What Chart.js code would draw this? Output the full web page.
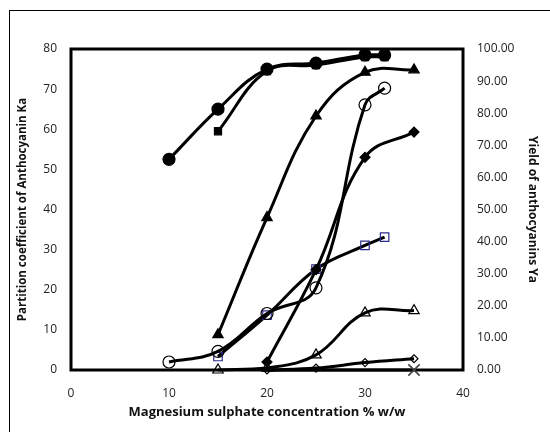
<!DOCTYPE html>
<html>
<head>
<meta charset="utf-8">
<script src="https://cdn.jsdelivr.net/npm/chart.js@4/dist/chart.umd.min.js"></script>
<style>
  html, body { margin: 0; padding: 0; background: #fff; }
  #wrap { width: 550px; height: 432px; position: relative; }
</style>
</head>
<body>
<div id="wrap"><canvas id="chart" width="550" height="432"></canvas></div>
<script>
// x values (Magnesium sulphate % w/w)
const xCircleFilled = [10, 15, 20, 25, 30, 32];
const kaCircleFilled = [52.5, 65, 75, 76.5, 78.5, 78.5];

const xSquareFilled = [15, 20, 25, 30, 32];
const kaSquareFilled = [59.5, 74.5, 76, 78, 78];

const xTriangleFilled = [15, 20, 25, 30, 35];
const kaTriangleFilled = [8.8, 38, 63.3, 74.2, 74.8];

const xDiamondFilled = [20, 25, 30, 35];
const kaDiamondFilled = [2, 25, 53, 59.3];

// yields (right axis, Ya)
const xCircleOpen = [10, 15, 20, 25, 30, 32];
const yaCircleOpen = [2.5, 5.8, 17.6, 25.6, 82.6, 87.8];

const xSquareOpen = [15, 20, 25, 30, 32];
const yaSquareOpen = [4.2, 17.1, 31.4, 38.8, 41.4];

const xTriangleOpen = [15, 20, 25, 30, 35];
const yaTriangleOpen = [0, 0.6, 4.7, 17.8, 18.5];

const xDiamondOpen = [20, 25, 30, 35];
const yaDiamondOpen = [0, 0.6, 2.3, 3.5];

const xCross = [20, 25, 30, 35];
const yaCross = [0, 0, 0, 0];

const xTicks = [0, 10, 20, 30, 40];

function pts(xs, ys) {
  return xs.map(function (x, i) { return { x: x, y: ys[i] }; });
}

const FONT = '"Open Sans", "Liberation Sans", sans-serif';

function series(xs, ys, axis, style, radius, filled, border) {
  return {
    data: pts(xs, ys),
    yAxisID: axis,
    borderColor: '#000',
    borderWidth: 3,
    tension: 0.4,
    clip: false,
    pointStyle: style,
    pointRadius: radius,
    pointBorderWidth: 1.2,
    pointBorderColor: border || '#000',
    pointBackgroundColor: filled ? '#000' : 'rgba(255,255,255,0)'
  };
}

const frame = {
  id: 'frame',
  beforeDraw: function (chart) {
    const ctx = chart.ctx;
    ctx.save();
    ctx.fillStyle = '#fff';
    ctx.fillRect(0, 0, chart.width, chart.height);
    ctx.strokeStyle = '#000';
    ctx.lineWidth = 1;
    ctx.strokeRect(9.5, 10.5, 700, 700);
    ctx.restore();
  },
  beforeDatasetsDraw: function (chart) {
    const a = chart.chartArea;
    const ctx = chart.ctx;
    ctx.save();
    ctx.strokeStyle = '#000';
    ctx.lineWidth = 3;
    ctx.strokeRect(a.left, a.top, a.right - a.left, a.bottom - a.top);
    ctx.restore();
  }
};

new Chart(document.getElementById('chart'), {
  type: 'line',
  data: {
    datasets: [
      Object.assign(series(xCross, yaCross, 'yYa', 'crossRot', 6, false), { pointRadius: [0, 0, 0, 8], pointBorderWidth: 1.6, pointBorderColor: '#444' }),
      series(xCircleFilled, kaCircleFilled, 'yKa', 'circle', 6, true),
      series(xSquareFilled, kaSquareFilled, 'yKa', 'rect', 5, true),
      series(xTriangleFilled, kaTriangleFilled, 'yKa', 'triangle', 6, true),
      series(xDiamondFilled, kaDiamondFilled, 'yKa', 'rectRot', 5, true),
      series(xCircleOpen, yaCircleOpen, 'yYa', 'circle', 6, false),
      series(xSquareOpen, yaSquareOpen, 'yYa', 'rect', 6, false, '#2b2b8c'),
      series(xTriangleOpen, yaTriangleOpen, 'yYa', 'triangle', 6, false),
      series(xDiamondOpen, yaDiamondOpen, 'yYa', 'rectRot', 4, false)
    ]
  },
  options: {
    responsive: false,
    animation: false,
    layout: { padding: { top: 49, left: 0, right: 0, bottom: 0 } },
    plugins: {
      legend: { display: false },
      tooltip: { enabled: false }
    },
    scales: {
      x: {
        type: 'linear',
        min: 0,
        max: 40,
        afterBuildTicks: function (s) { s.ticks = xTicks.map(function (v) { return { value: v }; }); },
        grid: { display: false, drawTicks: false },
        border: { display: false },
        ticks: { color: '#222', font: { family: FONT, size: 12 }, padding: 16, maxRotation: 0 },
        title: {
          display: true,
          text: 'Magnesium sulphate concentration % w/w',
          color: '#111',
          font: { family: FONT, size: 13, weight: 'bold' },
          padding: { top: 0, bottom: 12 }
        },
        afterFit: function (s) { s.height = 62; }
      },
      yKa: {
        position: 'left',
        min: 0,
        max: 80,
        ticks: { stepSize: 10, color: '#222', font: { family: FONT, size: 12 }, padding: 14 },
        grid: { display: false, drawTicks: false },
        border: { display: false },
        title: {
          display: true,
          text: 'Partition coefficient of Anthocyanin Ka',
          color: '#111',
          font: { family: FONT, size: 11.5, weight: 'bold' },
          padding: { top: 16, bottom: 0 }
        },
        afterFit: function (s) { s.width = 71; }
      },
      yYa: {
        position: 'right',
        min: 0,
        max: 100,
        ticks: {
          stepSize: 10,
          color: '#222',
          font: { family: FONT, size: 12 },
          padding: 9,
          callback: function (v) { return v.toFixed(2); }
        },
        grid: { display: false, drawOnChartArea: false, drawTicks: true, tickLength: 5, tickColor: '#666' },
        border: { display: false },
        title: {
          display: true,
          text: 'Yield of anthocyanins Ya',
          color: '#111',
          font: { family: FONT, size: 12, weight: 'bold' },
          padding: { top: 10, bottom: 0 }
        },
        afterFit: function (s) { s.width = 87; }
      }
    }
  },
  plugins: [frame]
});
</script>
</body>
</html>
